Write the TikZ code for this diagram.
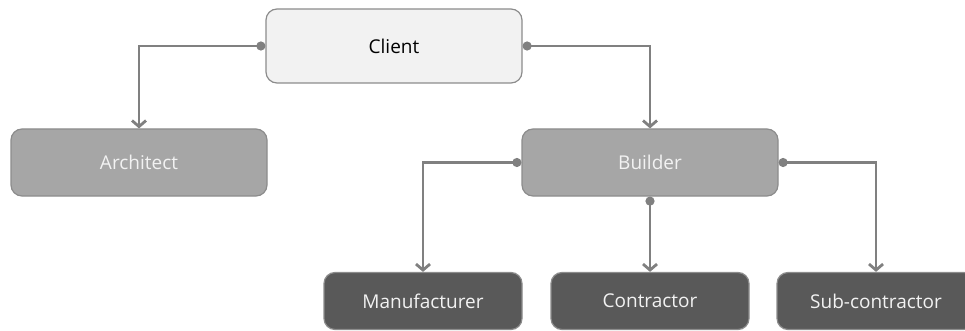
\documentclass[tikz,border=0pt]{standalone}
\usepackage{fontspec}
\setmainfont{Open Sans}
\usetikzlibrary{arrows.meta,backgrounds}

\begin{document}
\begin{tikzpicture}[
    x=1pt, y=-1pt,
    box/.style={draw=black!45, rounded corners=11pt, line width=1.2pt,
                inner sep=0pt, align=center,
                font=\fontsize{19}{22}\selectfont},
    top/.style={box, fill=black!5, text=black,
                minimum width=256pt, minimum height=74pt},
    mid/.style={box, fill=black!35, text=black!5,
                minimum width=256pt, minimum height=67pt},
    low/.style={box, fill=black!65, text=black!5,
                minimum width=198pt, minimum height=57pt},
    link/.style={{Circle[length=9pt]}-{Straight Barb[length=6pt,width=14pt]},
                 draw=black!50, line width=2.8pt}
]
\useasboundingbox (0,0) rectangle (965,331);

% Top level
\node[top] (client) at (394,46) {Client};

% Second level
\node[mid] (architect) at (139,162.5) {Architect};
\node[mid] (builder) at (650,162.5) {Builder};

% Third level
\node[low] (manufacturer) at (423,301) {Manufacturer};
\node[low] (contractor) at (650,301) {Contractor};
\node[low] (subcontractor) at (876,301) {Sub-contractor};

% Connectors (behind the boxes)
\begin{scope}[on background layer]
\draw[link] (client.west) -| (architect.north);
\draw[link] (client.east) -| (builder.north);
\draw[link] (builder.west) -| (manufacturer.north);
\draw[link] (builder.south) -- (contractor.north);
\draw[link] (builder.east) -| (subcontractor.north);
\end{scope}

\end{tikzpicture}
\end{document}
